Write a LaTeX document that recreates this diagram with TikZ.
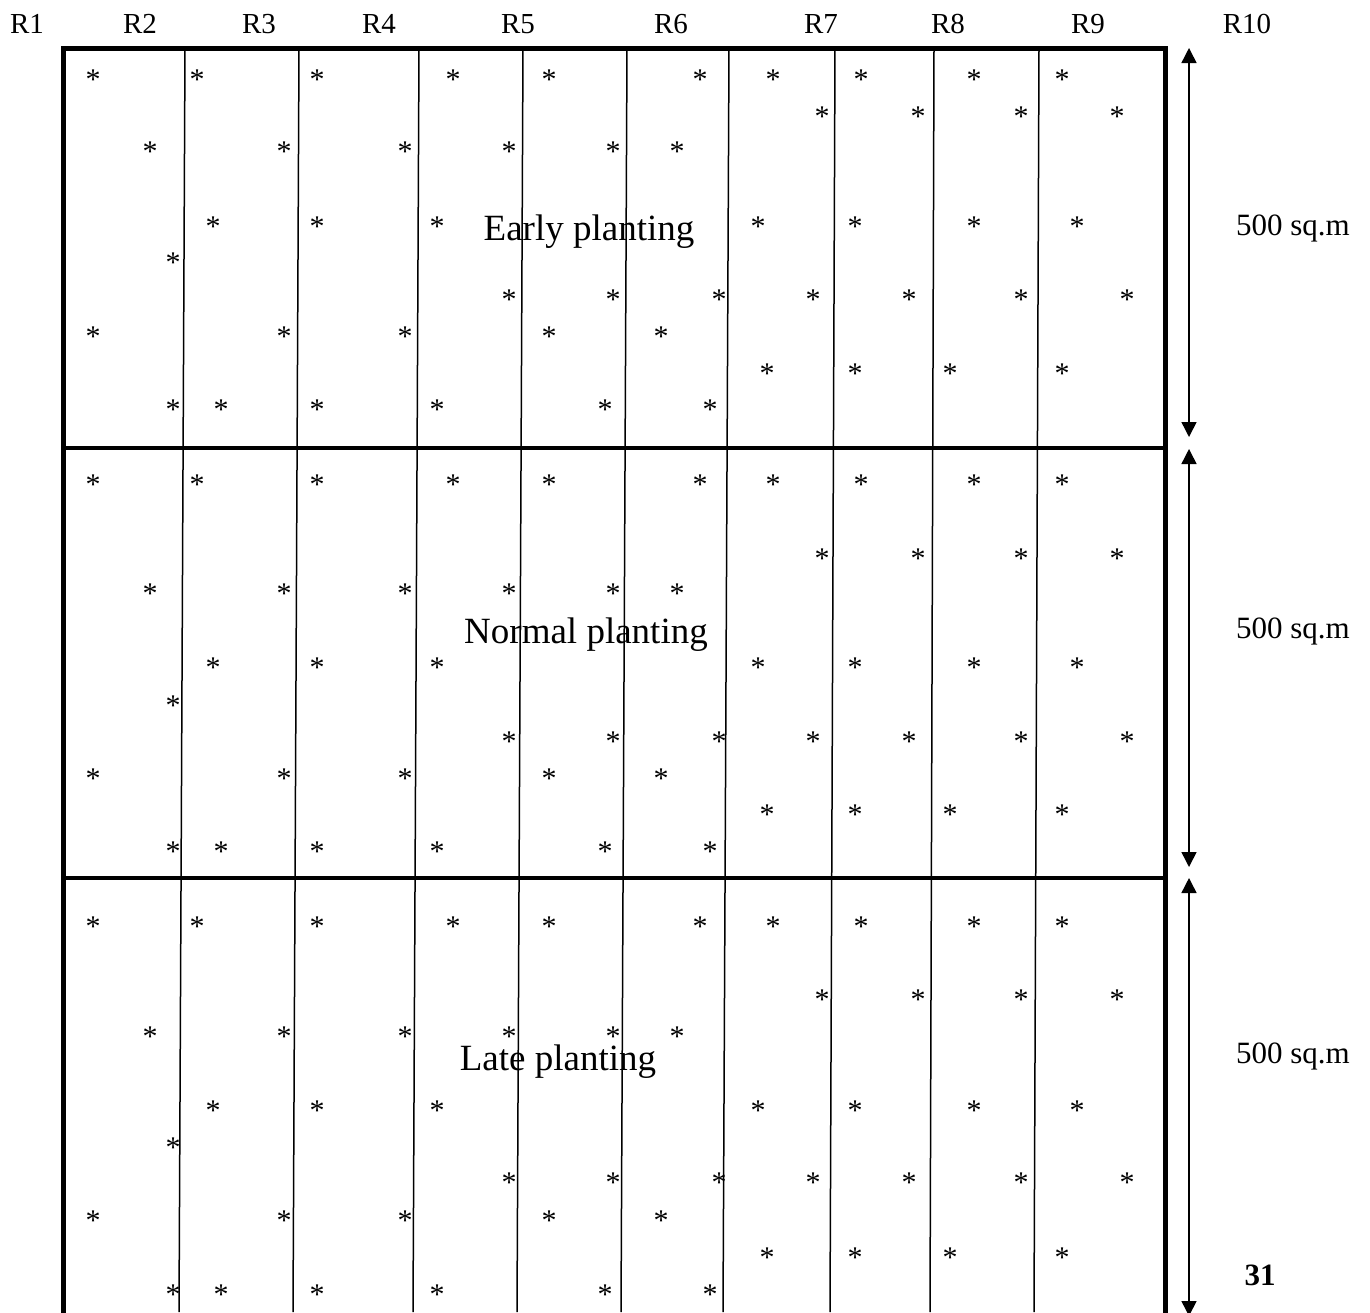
\documentclass[tikz,border=0pt]{standalone}
\usepackage{fontspec}
\setmainfont{Liberation Serif}
\usetikzlibrary{arrows.meta}

\begin{document}
\begin{tikzpicture}[x=1pt, y=-1pt,
    frame/.style={line width=5pt, line join=miter},
    divider/.style={line width=4.5pt},
    rowline/.style={line width=1.5pt},
    plant/.style={inner sep=0pt, anchor=base, yshift=-14pt, font=\fontsize{30}{36}\selectfont},
    reptag/.style={inner sep=0pt, anchor=base, font=\fontsize{29}{34}\selectfont},
    plotname/.style={inner sep=0pt, anchor=base, font=\fontsize{37}{44}\selectfont},
    areatag/.style={inner sep=0pt, anchor=base, font=\fontsize{31}{36}\selectfont},
    dimline/.style={{Triangle[length=15pt, width=15pt]}-{Triangle[length=15pt, width=15pt]}, line width=1.5pt}
]
\useasboundingbox (0,0) rectangle (1370,1312);
\clip (0,0) rectangle (1370,1312);

% field outline, the bottom edge runs off the page
\coordinate (tl) at (63,48);
\coordinate (tr) at (1165,48);
\coordinate (bl) at (63,1330);
\coordinate (br) at (1165,1330);
\coordinate (d1l) at (63,448);
\coordinate (d1r) at (1165,448);
\coordinate (d2l) at (63,878);
\coordinate (d2r) at (1165,878);

% row lines (they lean a little)
\foreach \xt/\xb in {185/179, 299/293, 419/413, 523/517, 627/621, 729/723, 835/830, 934/930, 1039/1034}
  \draw[rowline] (\xt,48) -- (\xb,1312);

\draw[frame] (bl) -- (tl) -- (tr) -- (br);
\draw[divider] (d1l) -- (d1r);
\draw[divider] (d2l) -- (d2r);

% replications
\foreach \x [count=\i] in {27,140,259,379,518,671,821,948,1088,1247}
  \node[reptag] (r\i) at (\x,33) {R\i};

% plants: same pattern in every block, only the row heights change
\foreach \blk/\ya/\yb/\yc/\yd/\ye/\yf/\yg/\yh/\yi in {e/75/112/147/222/258/295/332/369/405, n/480/554/589/663/701/737/774/810/847, l/922/995/1032/1106/1143/1178/1216/1253/1290} {
  \foreach \x in {93,197,317,453,549,700,773,861,974,1062}
    \node[plant] (\blk-a\x) at (\x,\ya) {*};
  \foreach \x in {822,918,1021,1117}
    \node[plant] (\blk-b\x) at (\x,\yb) {*};
  \foreach \x in {150,284,405,509,613,677}
    \node[plant] (\blk-c\x) at (\x,\yc) {*};
  \foreach \x in {213,317,437,758,855,974,1077}
    \node[plant] (\blk-d\x) at (\x,\yd) {*};
  \node[plant] (\blk-e173) at (173,\ye) {*};
  \foreach \x in {509,613,719,813,909,1021,1127}
    \node[plant] (\blk-f\x) at (\x,\yf) {*};
  \foreach \x in {93,284,405,549,661}
    \node[plant] (\blk-g\x) at (\x,\yg) {*};
  \foreach \x in {767,855,950,1062}
    \node[plant] (\blk-h\x) at (\x,\yh) {*};
  \foreach \x in {173,221,317,437,605,710}
    \node[plant] (\blk-i\x) at (\x,\yi) {*};
}

\node[plotname] (early) at (589,240) {Early planting};
\node[plotname] (normal) at (586,643) {Normal planting};
\node[plotname] (late) at (558,1070) {Late planting};

% block sizes
\coordinate (s1a) at (1189,48);
\coordinate (s1b) at (1189,437);
\coordinate (s2a) at (1189,449);
\coordinate (s2b) at (1189,867);
\coordinate (s3a) at (1189,878);
\coordinate (s3b) at (1189,1316);
\draw[dimline] (s1a) -- (s1b);
\draw[dimline] (s2a) -- (s2b);
\draw[dimline] (s3a) -- (s3b);

\node[areatag] (area1) at (1293,235) {500 sq.m};
\node[areatag] (area2) at (1293,638) {500 sq.m};
\node[areatag] (area3) at (1293,1063) {500 sq.m};

\node[areatag, font=\fontsize{31}{36}\selectfont\bfseries] (page) at (1260,1285) {31};
\end{tikzpicture}
\end{document}
